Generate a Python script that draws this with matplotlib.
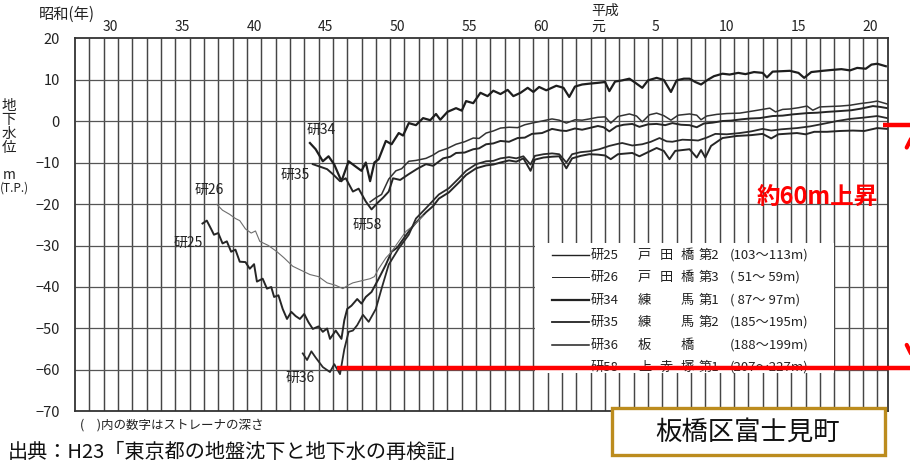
import matplotlib
matplotlib.use('Agg')
import matplotlib.pyplot as plt
from matplotlib.patches import Rectangle

plt.rcParams['font.family'] = ['Noto Sans CJK JP', 'DejaVu Sans']

# 観測井ごとの地下水位 (年, m T.P.)
ken34_year = [1969.4, 1969.8, 1970.3, 1970.7, 1971.1, 1971.6, 1972.1, 1972.6, 1973.0, 1973.3, 1973.6, 1973.9,
              1974.2, 1974.7, 1975.1, 1975.6, 1975.9, 1976.3, 1976.8, 1977.3, 1977.8, 1978.2, 1978.5, 1979.0,
              1979.6, 1980.0, 1980.3, 1980.8, 1981.3, 1981.8, 1982.2, 1982.7, 1983.2, 1983.6, 1984.1, 1984.6,
              1985.0, 1985.4, 1985.9, 1986.6, 1987.1, 1987.5, 1987.9, 1988.4, 1988.9, 1989.5, 1990.0, 1990.3,
              1990.7, 1991.2, 1991.7, 1992.0, 1992.6, 1993.0, 1993.6, 1994.1, 1994.6, 1995.0, 1995.5, 1995.9,
              1996.3, 1996.7, 1997.2, 1997.6, 1998.2, 1998.7, 1999.3, 1999.8, 2000.4, 2001.0, 2001.3, 2001.7,
              2002.3, 2002.9, 2003.5, 2003.9, 2004.4, 2005.2, 2005.8, 2006.5, 2007.1, 2007.6, 2008.2, 2008.6,
              2009.0, 2009.6]
ken34_level = [-5.3, -6.8, -9.7, -8.5, -10.5, -14.5, -9.7, -11.0, -12.0, -10.0, -14.5, -10.0,
               -9.2, -4.8, -5.6, -2.9, -3.5, -0.5, -1.0, 0.7, 0.2, 1.7, 0.3, 2.2,
               3.1, 2.5, 4.8, 4.3, 6.8, 6.0, 7.3, 6.5, 7.5, 6.0, 6.8, 8.0,
               7.0, 8.2, 7.4, 8.5, 8.0, 5.8, 8.3, 8.8, 9.0, 9.2, 9.4, 7.2,
               9.5, 9.8, 10.2, 9.5, 8.0, 9.8, 10.4, 9.9, 7.0, 9.8, 10.2, 10.2,
               9.4, 8.8, 10.0, 10.8, 11.4, 11.2, 11.6, 11.3, 11.8, 11.6, 10.5, 11.9,
               12.0, 12.1, 11.6, 10.4, 11.8, 12.1, 12.3, 12.5, 12.2, 12.8, 12.6, 13.6,
               13.8, 13.2]

ken35_year = [1969.6, 1970.1, 1970.6, 1971.0, 1971.5, 1971.9, 1972.4, 1972.8, 1973.3, 1973.7, 1974.1, 1974.5,
              1974.9, 1975.2, 1975.7, 1976.3, 1976.9, 1977.5, 1978.0, 1978.7, 1979.2, 1979.6, 1980.2, 1980.8,
              1981.2, 1981.7, 1982.2, 1982.7, 1983.3, 1983.9, 1984.4, 1984.9, 1985.6, 1986.3, 1986.9, 1987.3,
              1987.9, 1988.4, 1988.9, 1989.5, 1989.9, 1990.3, 1990.8, 1991.3, 1991.9, 1992.4, 1993.0, 1993.6,
              1994.2, 1994.7, 1995.3, 1995.9, 1996.4, 1996.9, 1997.5, 1998.2, 1998.8, 1999.5, 2000.1, 2000.8,
              2001.7, 2002.4, 2003.1, 2004.1, 2004.8, 2005.5, 2006.4, 2007.2, 2007.9, 2008.7, 2009.2, 2009.7]
ken35_level = [-10.4, -11.0, -11.6, -12.8, -14.5, -13.8, -17.0, -16.3, -19.4, -21.3, -19.8, -18.5,
               -17.0, -13.8, -14.2, -12.8, -11.5, -10.4, -10.8, -9.0, -8.6, -7.7, -7.6, -6.8,
               -6.6, -5.6, -5.4, -4.8, -5.0, -4.1, -4.0, -3.1, -2.9, -1.9, -2.3, -2.4,
               -1.8, -2.1, -1.7, -1.2, -1.5, -2.5, -1.3, -0.9, -0.7, -1.4, -0.8, -0.7,
               -1.0, -0.5, -0.9, -1.0, -1.5, -0.6, -0.4, 0.0, 0.1, 0.4, 0.6, 0.7,
               1.2, 1.3, 1.6, 1.9, 2.0, 2.2, 2.4, 2.6, 3.0, 3.6, 3.4, 3.1]

ken58_year = [1973.6, 1974.0, 1974.4, 1974.9, 1975.4, 1975.8, 1976.3, 1976.8, 1977.5, 1978.0, 1978.4, 1979.0,
              1979.6, 1980.2, 1980.8, 1981.2, 1981.7, 1982.2, 1982.7, 1983.3, 1983.9, 1984.4, 1984.9, 1985.6,
              1986.3, 1986.8, 1987.3, 1987.9, 1988.4, 1988.9, 1989.5, 1990.0, 1990.4, 1990.9, 1991.7, 1992.2,
              1992.6, 1993.1, 1993.6, 1994.1, 1994.6, 1995.1, 1995.9, 1996.4, 1996.7, 1997.1, 1997.8, 1998.5,
              1999.4, 2000.3, 2001.0, 2001.5, 2001.9, 2002.4, 2002.9, 2003.5, 2004.1, 2004.5, 2005.0, 2005.7,
              2006.4, 2007.1, 2007.8, 2008.5, 2009.0, 2009.7]
ken58_level = [-19.5, -18.5, -17.7, -14.0, -12.0, -11.5, -9.7, -9.5, -9.0, -8.2, -7.3, -6.6,
               -5.6, -5.0, -4.1, -4.2, -2.9, -2.4, -1.7, -1.5, -1.6, -0.9, -0.5, 0.0,
               0.5, 0.2, -0.5, 0.3, 0.2, 0.5, 0.9, 1.0, -0.5, 1.1, 1.7, 1.2,
               -0.2, 1.5, 1.9, 1.3, 0.2, 1.4, 1.7, 1.4, 0.3, 1.2, 1.6, 1.8,
               1.9, 2.4, 2.8, 3.1, 2.2, 2.8, 2.9, 3.2, 3.6, 2.6, 3.4, 3.5,
               3.6, 3.8, 4.2, 4.5, 4.8, 4.1]

ken25_year = [1961.9, 1962.2, 1962.5, 1962.7, 1963.0, 1963.3, 1963.6, 1963.9, 1964.2, 1964.5, 1964.9, 1965.2,
              1965.5, 1965.7, 1966.1, 1966.4, 1966.7, 1966.9, 1967.2, 1967.5, 1967.8, 1968.1, 1968.4, 1968.7,
              1969.0, 1969.3, 1969.6, 1970.0, 1970.3, 1970.6, 1970.8, 1971.2, 1971.6, 1971.8, 1972.0, 1972.3,
              1972.7, 1973.0, 1973.3, 1973.7, 1974.2, 1974.7, 1975.1, 1975.5, 1975.8, 1976.3, 1976.8, 1977.5,
              1978.0, 1978.4, 1979.1, 1979.8, 1980.3, 1981.0, 1981.7, 1982.2, 1982.7, 1983.3, 1983.8, 1984.3,
              1984.8, 1985.1, 1985.7, 1986.3, 1986.8, 1987.3, 1987.7, 1988.3, 1988.9, 1989.5, 1990.0, 1990.4,
              1990.9, 1991.9, 1992.4, 1993.6, 1994.1, 1994.5, 1994.9, 1995.9, 1996.4, 1996.7, 1997.0, 1997.4,
              1998.2, 1999.2, 2000.2, 2001.0, 2001.6, 2002.1, 2003.4, 2004.0, 2004.6, 2005.5, 2006.4, 2007.3,
              2008.1, 2009.0, 2009.7]
ken25_level = [-24.7, -24.0, -26.0, -27.4, -27.0, -29.5, -29.0, -31.5, -31.0, -33.9, -34.0, -35.6,
               -34.5, -38.7, -38.0, -40.4, -40.0, -42.4, -42.0, -45.3, -47.7, -46.0, -47.0, -47.7,
               -46.5, -48.5, -50.1, -49.5, -50.8, -50.0, -52.5, -50.5, -52.5, -48.0, -45.3, -44.5,
               -42.9, -44.0, -42.4, -41.2, -38.0, -34.6, -31.5, -30.5, -29.0, -26.6, -24.5, -22.0,
               -20.5, -18.7, -17.2, -14.8, -13.0, -11.4, -10.7, -10.5, -10.0, -9.5, -9.8, -9.0,
               -12.0, -9.3, -8.8, -8.6, -8.5, -11.4, -9.0, -8.4, -8.0, -8.1, -8.3, -9.2,
               -8.0, -7.7, -8.5, -6.5, -7.2, -9.2, -7.2, -6.8, -8.8, -7.0, -8.8, -6.0,
               -4.1, -3.6, -3.4, -3.1, -4.2, -3.2, -2.9, -3.2, -2.6, -2.6, -2.4, -2.3,
               -2.4, -1.7, -1.9]

ken36_year = [1968.9, 1969.2, 1969.5, 1969.8, 1970.3, 1970.8, 1971.1, 1971.5, 1971.8, 1972.1, 1972.4, 1972.7,
              1973.1, 1973.5, 1974.0, 1974.4, 1974.9, 1975.6, 1976.3, 1976.8, 1977.5, 1978.4, 1979.1, 1979.8,
              1980.3, 1981.0, 1981.7, 1982.2, 1982.7, 1983.3, 1983.8, 1984.3, 1984.8, 1985.1, 1985.7, 1986.3,
              1986.8, 1987.3, 1987.7, 1988.3, 1988.9, 1989.6, 1990.3, 1990.9, 1991.2, 1991.9, 1992.6, 1993.2,
              1993.8, 1994.3, 1994.7, 1995.4, 1996.1, 1996.5, 1997.1, 1997.7, 1998.5, 1999.4, 2000.2, 2001.0,
              2001.6, 2002.3, 2003.4, 2004.3, 2005.2, 2006.2, 2007.1, 2008.0, 2009.0, 2009.7]
ken36_level = [-56.0, -57.6, -55.5, -57.0, -59.3, -60.5, -58.6, -61.0, -55.0, -50.8, -50.5, -49.2,
               -46.7, -48.4, -45.3, -40.4, -34.6, -30.7, -27.4, -23.5, -21.0, -17.7, -16.2, -13.8,
               -12.0, -10.4, -9.7, -9.6, -9.0, -8.7, -9.0, -8.5, -10.5, -8.4, -8.0, -7.8,
               -8.0, -10.0, -8.0, -7.5, -7.3, -6.8, -6.0, -5.5, -5.3, -5.9, -5.6, -5.0,
               -4.1, -4.9, -5.0, -4.5, -4.6, -4.7, -4.0, -3.1, -3.2, -2.9, -2.5, -1.9,
               -2.3, -2.0, -1.7, -1.3, -0.7, 0.0, 0.5, 0.8, 1.2, 0.7]

ken26_year = [1962.9, 1963.3, 1963.8, 1964.2, 1964.5, 1964.9, 1965.3, 1965.6, 1965.9, 1966.5, 1967.1, 1967.6,
              1968.2, 1968.8, 1969.4, 1970.0, 1970.6, 1971.2, 1971.7, 1972.1, 1972.4, 1973.0, 1973.6, 1973.9,
              1974.2, 1974.7, 1975.1, 1975.6, 1976.1, 1976.7, 1977.3]
ken26_level = [-20.1, -21.5, -22.5, -23.5, -24.0, -26.0, -27.0, -26.5, -29.0, -30.0, -31.5, -33.0,
               -35.0, -36.0, -37.0, -37.5, -39.0, -39.6, -40.4, -39.5, -39.0, -38.5, -38.0, -37.5,
               -35.6, -33.0, -31.5, -29.0, -26.6, -25.0, -22.8]

# 凡例
legend_ids = ['研25', '研26', '研34', '研35', '研36', '研58']
legend_places = [['戸', '田', '橋'], ['戸', '田', '橋'], ['練', '', '馬'], ['練', '', '馬'],
                 ['板', '', '橋'], ['上', '赤', '塚']]
legend_wells = ['第2', '第3', '第1', '第2', '', '第1']
legend_depths = ['(103～113m)', '( 51～ 59m)', '( 87～ 97m)', '(185～195m)', '(188～199m)', '(207～227m)']

# 上軸の目盛 (昭和 → 平成)
tick_years = [1955, 1960, 1965, 1970, 1975, 1980, 1985, 1989, 1993, 1998, 2003, 2008]
tick_labels = ['30', '35', '40', '45', '50', '55', '60', '元', '5', '10', '15', '20']

fig = plt.figure(figsize=(9.1, 4.7), dpi=100)
ax = fig.add_axes([0.0824, 0.1245, 0.8934, 0.7946])
ax.set_xlim(1953, 2009.75)
ax.set_ylim(-70, 20)

# 方眼 (毎年 / 10m)
ax.vlines(range(1954, 2010), -70, 20, color='#454545', lw=1.05, zorder=1)
ax.hlines(range(-60, 20, 10), 1953, 2009.75, color='#555555', lw=0.9, zorder=1)
for sp in ax.spines.values():
    sp.set_color('#333333')
    sp.set_linewidth(1.3)

# 水位曲線
ax.plot(ken25_year, ken25_level, color='#262626', lw=1.4, zorder=2)
ax.plot(ken26_year, ken26_level, color='#6e6e6e', lw=0.8, zorder=2)
ax.plot(ken34_year, ken34_level, color='#1e1e1e', lw=1.6, zorder=2)
ax.plot(ken35_year, ken35_level, color='#262626', lw=1.4, zorder=2)
ax.plot(ken36_year, ken36_level, color='#2a2a2a', lw=1.3, zorder=2)
ax.plot(ken58_year, ken58_level, color='#333333', lw=1.1, zorder=2)

# 曲線ラベル
lab = dict(fontsize=10, color='#222222', ha='center', va='center', zorder=4)
ax.text(1962.4, -16.6, '研26', **lab)
ax.text(1960.9, -29.4, '研25', **lab)
ax.text(1970.2, -2.2, '研34', **lab)
ax.text(1968.4, -13.0, '研35', **lab)
ax.text(1973.4, -25.0, '研58', **lab)
ax.text(1968.7, -61.9, '研36', **lab)

# 軸目盛
ax.xaxis.tick_top()
ax.set_xticks([y + 0.5 for y in tick_years])
ax.set_xticklabels(tick_labels)
ax.set_yticks(range(-70, 21, 10))
ax.tick_params(axis='x', length=0, pad=3, labelsize=10, colors='#222222')
ax.tick_params(axis='y', length=0, pad=11, labelsize=10.5, colors='#222222')

fig.text(67 / 910, 1 - 14 / 470, '昭和(年)', fontsize=11, ha='center', va='center', color='#222222')
fig.text(605 / 910, 1 - 11 / 470, '平成', fontsize=10, ha='center', va='center', color='#222222')
fig.text(9 / 910, 1 - 127 / 470, '地\n下\n水\n位', fontsize=10.5, ha='center', va='center',
         linespacing=1.0, color='#222222')
fig.text(9 / 910, 1 - 175 / 470, 'm', fontsize=10, ha='center', va='center', color='#222222')
fig.text(14 / 910, 1 - 188 / 470, '(T.P.)', fontsize=8.5, ha='center', va='center', color='#222222')

# 凡例ボックス
ax.add_patch(Rectangle((1985.1, -60.7), 20.9, 31.3, facecolor='white', edgecolor='none', zorder=3))
row_y = [-32.3, -37.6, -43.2, -48.5, -54.0, -59.3]
row_lw = [1.0, 0.7, 1.6, 1.3, 1.1, 1.1]
slot_x = [1992.3, 1993.8, 1995.3]
lt = dict(fontsize=9.5, color='#222222', va='center', ha='left', zorder=4)
for i in range(len(legend_ids)):
    ax.plot([1986.3, 1988.9], [row_y[i], row_y[i]], color='#222222', lw=row_lw[i], zorder=4)
    ax.text(1989.0, row_y[i], legend_ids[i], **lt)
    for j in range(3):
        ax.text(slot_x[j], row_y[i], legend_places[i][j], **lt)
    ax.text(1996.5, row_y[i], legend_wells[i], **lt)
    ax.text(1998.7, row_y[i], legend_depths[i], **lt)

# 赤の注記 (約60m上昇)
ax.plot([1971.3, 2011.5], [-59.5, -59.5], color='#ff0000', lw=3.2, solid_capstyle='butt',
        clip_on=False, zorder=5)
ax.plot([2009.4, 2011.5], [-0.85, -0.85], color='#ff0000', lw=3.2, solid_capstyle='butt',
        clip_on=False, zorder=5)
ax.annotate('', xy=(2011.6, -0.85), xytext=(2011.6, -59.5), annotation_clip=False,
            arrowprops=dict(arrowstyle='<->', color='#ff0000', lw=3, mutation_scale=28), zorder=5)
ax.text(2004.8, -18.3, '約60m上昇', fontsize=17, fontweight='bold', color='#ff0000',
        ha='center', va='center', zorder=5)

# 下部の注記
fig.text(80 / 910, 1 - 425 / 470, '(　)内の数字はストレーナの深さ', fontsize=9, ha='left', va='center',
         color='#222222')
fig.text(8 / 910, 1 - 452 / 470, '出典：H23「東京都の地盤沈下と地下水の再検証」', fontsize=14.5,
         ha='left', va='center', color='#111111')
fig.patches.append(Rectangle((612 / 910, 1 - 455 / 470), 273 / 910, 47 / 470, transform=fig.transFigure,
                             facecolor='white', edgecolor='#bc8c1e', lw=2.4, zorder=6))
fig.text(748 / 910, 1 - 432 / 470, '板橋区富士見町', fontsize=19, ha='center', va='center',
         color='#111111', zorder=7)

fig.savefig('out.png', dpi=100)
